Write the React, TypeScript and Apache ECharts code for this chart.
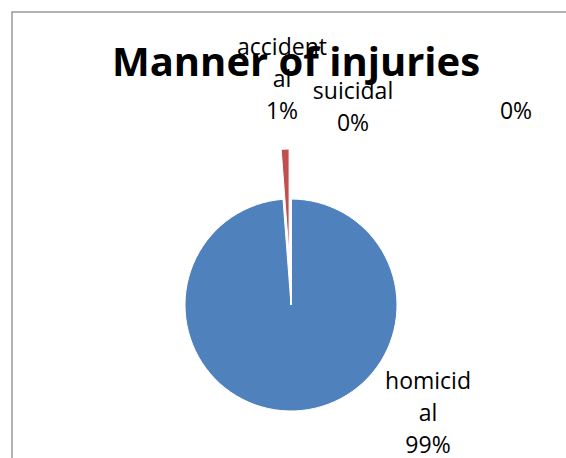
import React, { useEffect, useRef } from "react";
import * as echarts from "echarts";

const categories = ["homicidal", "accidental", "suicidal", ""];
const values = [98.8, 1.2, 0, 0];
const colors = ["#4F81BD", "#C0504D", "#9BBB59", "#8064A2"];
const titleText = "Manner of injuries";
// label anchor points (centre of each label block)
const labelPos = [
  [428, 412],
  [282, 78],
  [353, 106],
  [516, 110],
];

export default function App() {
  const ref = useRef<HTMLDivElement>(null);
  useEffect(() => {
    const chart = echarts.init(ref.current!, null, { renderer: "svg" });
    const total = values.reduce((a, b) => a + b, 0);
    const labelGraphics = categories.map((name, i) => ({
      type: "text",
      x: labelPos[i][0],
      y: labelPos[i][1],
      silent: true,
      style: {
        text: (name ? name + "\n" : "") + Math.round((values[i] / total) * 100) + "%",
        fontFamily: "Open Sans",
        fontSize: 23,
        lineHeight: 32,
        fill: "#000",
        align: "center",
        verticalAlign: "middle",
        width: 93,
        overflow: "breakAll",
      },
    }));
    chart.setOption({
      animation: false,
      backgroundColor: "#fff",
      graphic: [
        {
          type: "rect",
          shape: { x: 12, y: 12, width: 700, height: 700 },
          style: { fill: "none", stroke: "#9a9a9a", lineWidth: 1.5 },
          silent: true,
        },
        {
          type: "text",
          x: 296,
          y: 60,
          silent: true,
          style: {
            text: titleText,
            fontFamily: "Open Sans",
            fontWeight: "bold",
            fontSize: 40,
            fill: "#000",
            align: "center",
            verticalAlign: "middle",
          },
        },
        ...labelGraphics,
      ],
      series: [
        {
          type: "pie",
          center: [291, 305],
          radius: 106,
          startAngle: 90,
          clockwise: true,
          selectedMode: "single",
          selectedOffset: 50,
          avoidLabelOverlap: false,
          emphasis: { disabled: true },
          itemStyle: { borderColor: "#fff", borderWidth: 1 },
          label: { show: false },
          labelLine: { show: false },
          data: categories.map((name, i) => ({
            name,
            value: values[i],
            selected: i === 1,
            itemStyle: { color: colors[i] },
          })),
        },
      ],
    });
    return () => chart.dispose();
  }, []);
  return (
    <div
      ref={ref}
      style={{ position: "absolute", left: 0, top: 0, width: 566, height: 458 }}
    />
  );
}
